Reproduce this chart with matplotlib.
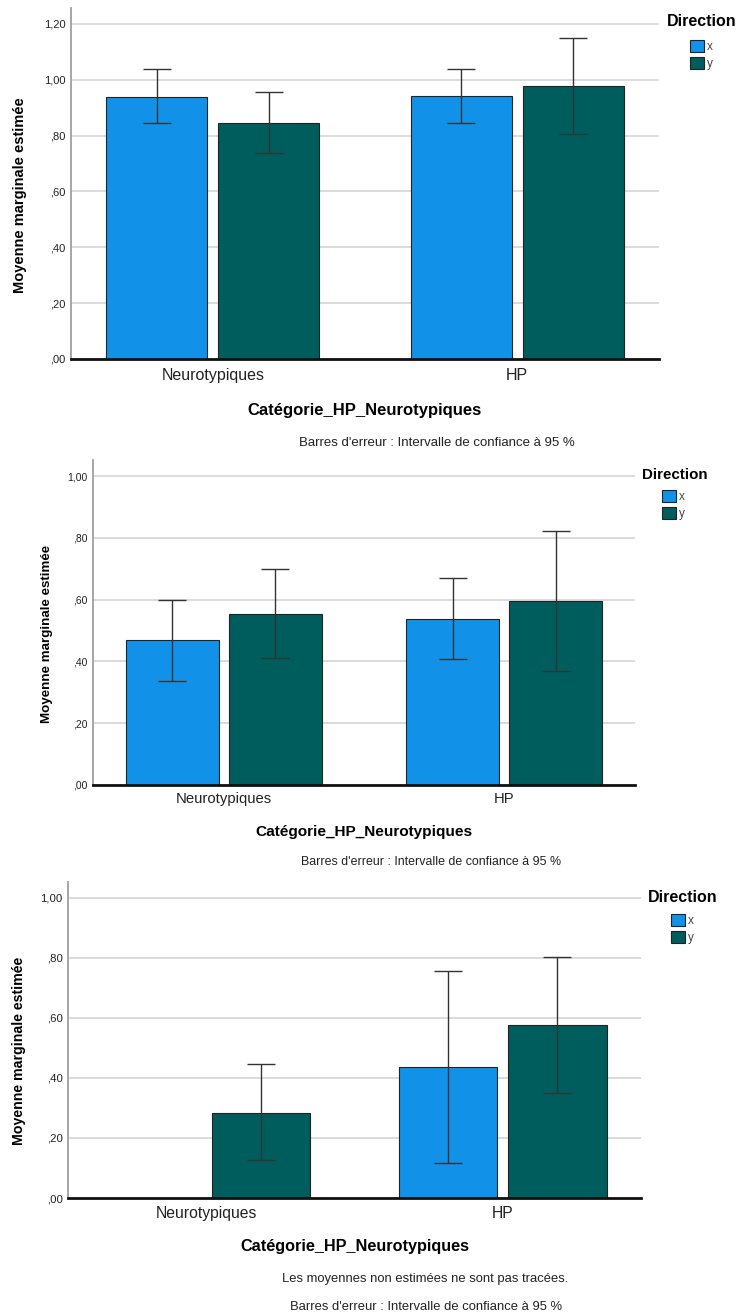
import numpy as np
import matplotlib
matplotlib.use("Agg")
import matplotlib.pyplot as plt
from matplotlib.patches import Patch
from matplotlib.ticker import FuncFormatter

plt.rcParams['font.family'] = ['Liberation Sans', 'DejaVu Sans']

W, H = 739, 1313

categories = ["Neurotypiques", "HP"]
directions = ["x", "y"]

# panneau 1
p1_x = [0.940, 0.942]
p1_x_lo = [0.845, 0.845]
p1_x_hi = [1.040, 1.040]
p1_y = [0.845, 0.977]
p1_y_lo = [0.737, 0.806]
p1_y_hi = [0.955, 1.148]

# panneau 2
p2_x = [0.468, 0.538]
p2_x_lo = [0.338, 0.408]
p2_x_hi = [0.599, 0.670]
p2_y = [0.554, 0.596]
p2_y_lo = [0.411, 0.369]
p2_y_hi = [0.698, 0.823]

# panneau 3 (moyenne non estimée pour Neurotypiques / x)
p3_x = [np.nan, 0.436]
p3_x_lo = [np.nan, 0.115]
p3_x_hi = [np.nan, 0.757]
p3_y = [0.284, 0.576]
p3_y_lo = [0.125, 0.349]
p3_y_hi = [0.445, 0.802]

colors = ["#1192e8", "#005d5d"]
x_label = "Catégorie_HP_Neurotypiques"
y_label = "Moyenne marginale estimée"
foot_ci = "Barres d'erreur : Intervalle de confiance à 95 %"
foot_na = "Les moyennes non estimées ne sont pas tracées."


def fx(x):
    return x / W


def fy(y):
    return 1 - y / H


def spss_fmt(v, pos):
    s = f"{v:.2f}".replace(".", ",")
    if s.startswith("0"):
        s = s[1:]
    return s


def panel(fig, box, series, ymax, yticks, sz, ylab_pos, leg_pos, xlab_y, feet):
    l, t, r, b = box
    ax = fig.add_axes([fx(l), fy(b), (r - l) / W, (b - t) / H])
    xpos = np.arange(len(categories))
    width = 0.332
    offs = [-0.184, 0.184]
    for k, (vals, lo, hi) in enumerate(series):
        vals = np.array(vals, dtype=float)
        lo = np.array(lo, dtype=float)
        hi = np.array(hi, dtype=float)
        ok = ~np.isnan(vals)
        ax.bar(xpos[ok] + offs[k], vals[ok], width, color=colors[k],
               edgecolor="#222222", linewidth=0.8, zorder=2)
        ax.errorbar(xpos[ok] + offs[k], vals[ok],
                    yerr=[vals[ok] - lo[ok], hi[ok] - vals[ok]],
                    fmt="none", ecolor="#333333", elinewidth=1.0,
                    capsize=10, capthick=1.0, zorder=3)
    ax.set_xlim(-0.466, 1.466)
    ax.set_ylim(0, ymax)
    ax.set_yticks(yticks)
    ax.yaxis.set_major_formatter(FuncFormatter(spss_fmt))
    ax.set_xticks(xpos)
    ax.set_xticklabels(categories, fontsize=sz["xt"], color="#222222")
    ax.tick_params(axis="y", length=0, labelsize=sz["yt"], pad=4, labelcolor="#222222")
    ax.tick_params(axis="x", length=0, pad=sz["xpad"])
    ax.grid(axis="y", color="#d9d9d9", linewidth=1.3, zorder=0)
    ax.set_axisbelow(True)
    for s in ["top", "right"]:
        ax.spines[s].set_visible(False)
    ax.spines["left"].set_color("#a6a6a6")
    ax.spines["left"].set_linewidth(1.4)
    ax.spines["bottom"].set_color("#111111")
    ax.spines["bottom"].set_linewidth(2.0)
    ax.spines["bottom"].set_zorder(4)

    fig.text(fx(ylab_pos[0]), fy(ylab_pos[1]), y_label, rotation=90,
             ha="center", va="center", fontsize=sz["yl"], fontweight="bold")
    fig.text(fx((l + r) / 2), fy(xlab_y), x_label, ha="center", va="center",
             fontsize=sz["xl"], fontweight="bold")
    for (cx, cy, txt) in feet:
        fig.text(fx(cx), fy(cy), txt, ha="center", va="center",
                 fontsize=sz["ft"], color="#222222")

    fig.text(fx(leg_pos[0]), fy(leg_pos[1]), "Direction", ha="left", va="center",
             fontsize=sz["dir"], fontweight="bold")
    handles = [Patch(facecolor=colors[k], edgecolor="#222222", linewidth=0.8)
               for k in range(len(directions))]
    leg = ax.legend(handles, directions, loc="upper left",
                    bbox_to_anchor=(fx(leg_pos[2]), fy(leg_pos[3])),
                    bbox_transform=fig.transFigure, frameon=False, borderpad=0,
                    borderaxespad=0, fontsize=8.5, handlelength=1.15,
                    handleheight=1.15, handletextpad=0.25, labelspacing=0.38)
    for txt in leg.get_texts():
        txt.set_color("#444444")
    return ax


def main():
    fig = plt.figure(figsize=(W / 100, H / 100), dpi=100)

    panel(fig, (71, 8, 659, 359),
          [(p1_x, p1_x_lo, p1_x_hi), (p1_y, p1_y_lo, p1_y_hi)],
          1.257, [0, 0.2, 0.4, 0.6, 0.8, 1.0, 1.2],
          dict(xt=11.5, yt=8, yl=10.5, xl=12, dir=11.5, ft=9.5, xpad=6.5),
          (20, 195), (667, 22, 690, 40), 410,
          [(437, 443, foot_ci)])

    panel(fig, (93, 460, 635, 785),
          [(p2_x, p2_x_lo, p2_x_hi), (p2_y, p2_y_lo, p2_y_hi)],
          1.052, [0, 0.2, 0.4, 0.6, 0.8, 1.0],
          dict(xt=10.7, yt=7.5, yl=9.6, xl=11.1, dir=10.9, ft=8.9, xpad=5),
          (47, 634), (642, 475, 662, 490), 832,
          [(431, 862, foot_ci)])

    panel(fig, (68, 882, 641, 1198),
          [(p3_x, p3_x_lo, p3_x_hi), (p3_y, p3_y_lo, p3_y_hi)],
          1.052, [0, 0.2, 0.4, 0.6, 0.8, 1.0],
          dict(xt=11.3, yt=8.2, yl=10.2, xl=11.7, dir=11.5, ft=9.4, xpad=6),
          (19, 1051), (648, 897, 671, 914), 1247,
          [(425, 1279, foot_na), (426, 1307, foot_ci)])

    fig.savefig("out.png", dpi=100)


if __name__ == "__main__":
    main()
